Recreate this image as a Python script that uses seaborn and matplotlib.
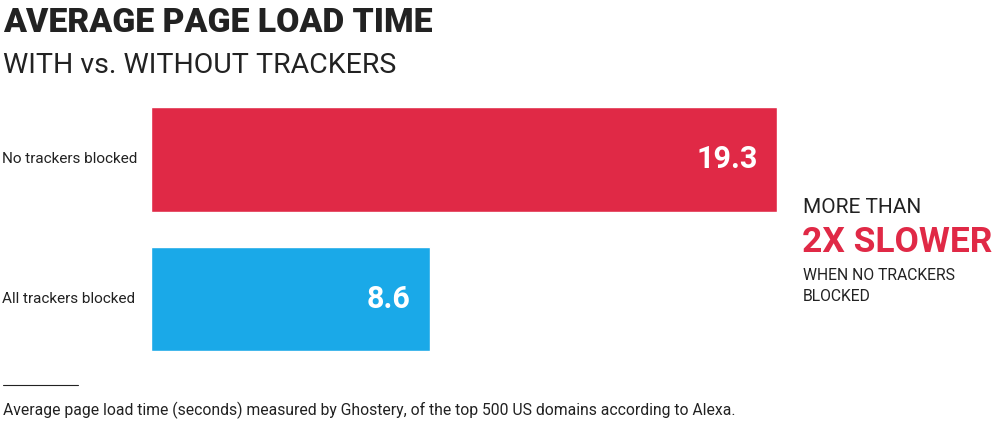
import matplotlib
matplotlib.use("Agg")
import matplotlib.pyplot as plt
import matplotlib.transforms as mtransforms
import seaborn as sns
import pandas as pd
from matplotlib.lines import Line2D

# --- data ---
categories = ["No trackers blocked", "All trackers blocked"]
load_times = [19.3, 8.6]
bar_colors = ["#E02946", "#1AA9E8"]

sns.set_style("white")
plt.rcParams['font.family'] = ['Roboto', 'DejaVu Sans']

df = pd.DataFrame({"category": categories, "seconds": load_times})

fig = plt.figure(figsize=(10, 4.3), dpi=100)
ax = fig.add_axes([0.151, 0.1837, 0.626, 0.567])
sns.barplot(data=df, y="category", x="seconds", hue="category",
            palette=bar_colors, width=0.75, legend=False, ax=ax, saturation=1)
ax.set_xlim(0, 19.3)
ax.set_ylim(1.375, -0.375)
ax.set_xlabel("")
ax.set_ylabel("")
ax.set_xticks([])
ax.set_yticks([])
for s in ax.spines.values():
    s.set_visible(False)

# left-aligned category labels, x in figure coords
lab_tr = mtransforms.blended_transform_factory(fig.transFigure, ax.transData)
for i, c in enumerate(categories):
    ax.text(0.002, i, c, transform=lab_tr, ha="left", va="center",
            fontsize=11, color="#222222")
    ax.text(load_times[i] - 0.6, i, f"{load_times[i]}", color="white", ha="right",
            va="center", fontsize=22, fontweight="bold")

fig.text(0.003, 0.925, "AVERAGE PAGE LOAD TIME", fontsize=24.3, fontweight="black", color="#222222")
fig.text(0.003, 0.83, "WITH vs. WITHOUT TRACKERS", fontsize=20.5, color="#222222")

fig.text(0.803, 0.505, "MORE THAN", fontsize=15, color="#222222")
fig.text(0.802, 0.415, "2X SLOWER", fontsize=25.5, fontweight="bold", color="#E02946")
fig.text(0.803, 0.35, "WHEN NO TRACKERS", fontsize=11.3, color="#222222")
fig.text(0.803, 0.30, "BLOCKED", fontsize=11.3, color="#222222")

fig.add_artist(Line2D([0.003, 0.078], [0.105, 0.105], color="#222222", lw=0.8))
fig.text(0.003, 0.035, "Average page load time (seconds) measured by Ghostery, of the top 500 US domains according to Alexa.",
         fontsize=11.3, color="#222222")

fig.savefig("out.png", dpi=100)
